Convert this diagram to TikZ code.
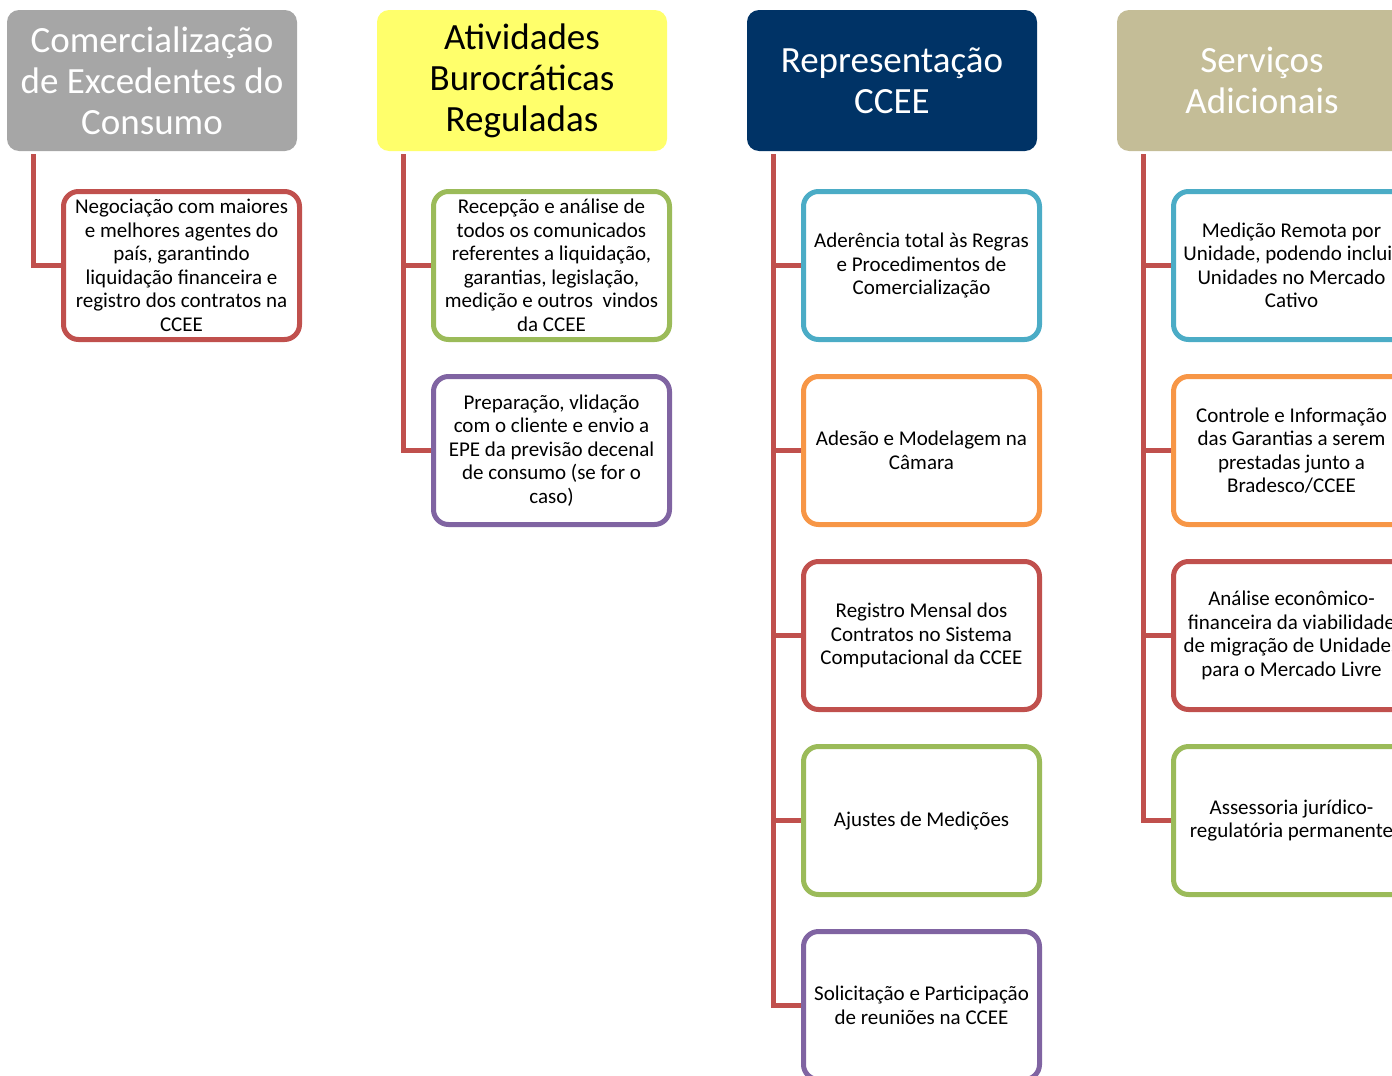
\documentclass[tikz,border=0pt]{standalone}
\usepackage{fontspec}
\setmainfont{Carlito}
\definecolor{cred}{HTML}{C0504D}
\definecolor{cgreen}{HTML}{9BBB59}
\definecolor{cpurple}{HTML}{8064A2}
\definecolor{cblue}{HTML}{4BACC6}
\definecolor{corange}{HTML}{F79646}
\definecolor{cgray}{HTML}{A6A6A6}
\definecolor{cyellow}{HTML}{FFFF6B}
\definecolor{cnavy}{HTML}{003366}
\definecolor{ctan}{HTML}{C4BD97}
\tikzset{
          hdr/.style={rounded corners=12pt, minimum width=290pt, minimum height=141pt,
                      inner sep=0pt, align=center, font=\fontsize{37}{41}\selectfont},
          item/.style={draw, line width=5pt, fill=white, rounded corners=15pt,
                       minimum width=236pt, minimum height=148pt, inner sep=0pt,
                       align=center, font=\fontsize{21}{23.5}\selectfont},
          link/.style={draw=cred, line width=5pt}
        }

\begin{document}
\begin{tikzpicture}[x=1pt, y=-1pt]
  \clip (0,0) rectangle (1392,1076);
  \useasboundingbox (0,0) rectangle (1392,1076);

  % cabecalhos
  \node[hdr, fill=cgray, text=white] (h1) at (152,80.5) {Comercialização\\de Excedentes do\\Consumo};
  \node[hdr, fill=cyellow, text=black] (h2) at (522,80.5) {Atividades\\Burocráticas\\Reguladas};
  \node[hdr, fill=cnavy, text=white] (h3) at (892,80.5) {Representação\\CCEE};
  \node[hdr, fill=ctan, text=white] (h4) at (1262,80.5) {Serviços\\Adicionais};

  % coluna 1
  \node[item, draw=cred] (a1) at (181.5,265.5) {Negociação com maiores\\e melhores agentes do\\país, garantindo\\liquidação financeira e\\registro dos contratos na\\CCEE};

  % coluna 2
  \node[item, draw=cgreen] (b1) at (551.5,265.5) {Recepção e análise de\\todos os comunicados\\referentes a liquidação,\\garantias, legislação,\\medição e outros\ \ vindos\\da CCEE};
  \node[item, draw=cpurple] (b2) at (551.5,450.5) {Preparação, vlidação\\com o cliente e envio a\\EPE da previsão decenal\\de consumo (se for o\\caso)};

  % coluna 3
  \foreach \i/\col/\txt in {
      1/cblue/{Aderência total às Regras\\e Procedimentos de\\Comercialização},
      2/corange/{Adesão e Modelagem na\\Câmara},
      3/cred/{Registro Mensal dos\\Contratos no Sistema\\Computacional da CCEE},
      4/cgreen/{Ajustes de Medições},
      5/cpurple/{Solicitação e Participação\\de reuniões na CCEE}} {
    \node[item, draw=\col] (c\i) at (921.5,80.5+185*\i) {\txt};
  }

  % coluna 4
  \foreach \i/\col/\txt in {
      1/cblue/{Medição Remota por\\Unidade, podendo incluir\\Unidades no Mercado\\Cativo},
      2/corange/{Controle e Informação\\das Garantias a serem\\prestadas junto a\\Bradesco/CCEE},
      3/cred/{Análise econômico-\\financeira da viabilidade\\de migração de Unidades\\para o Mercado Livre},
      4/cgreen/{Assessoria jurídico-\\regulatória permanente}} {
    \node[item, draw=\col] (d\i) at (1291.5,80.5+185*\i) {\txt};
  }

  % ligacoes
  \draw[link] ([xshift=27pt, yshift=-3pt]h1.south west) |- (a1.west);
  \foreach \i in {1,2}
    \draw[link] ([xshift=27pt, yshift=-3pt]h2.south west) |- (b\i.west);
  \foreach \i in {1,...,5}
    \draw[link] ([xshift=27pt, yshift=-3pt]h3.south west) |- (c\i.west);
  \foreach \i in {1,...,4}
    \draw[link] ([xshift=27pt, yshift=-3pt]h4.south west) |- (d\i.west);
\end{tikzpicture}
\end{document}
